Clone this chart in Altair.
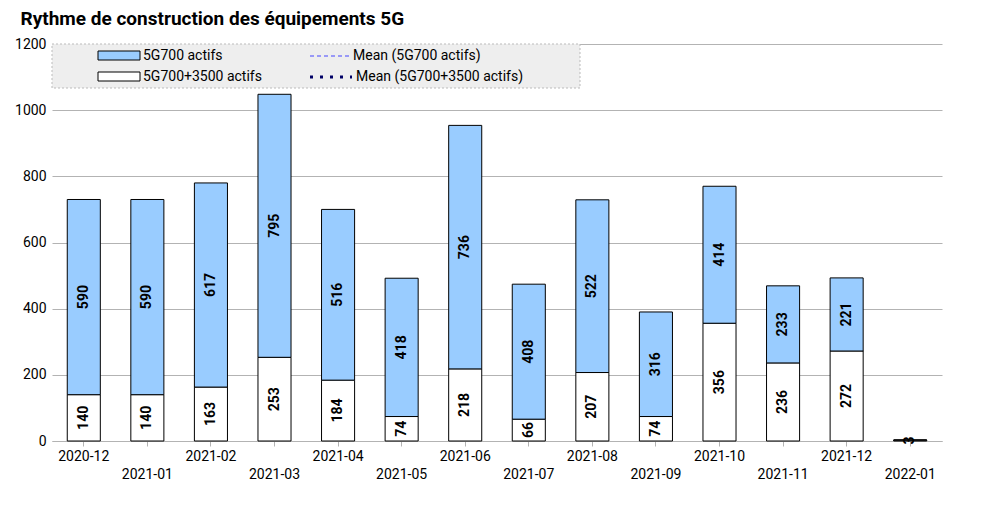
import altair as alt
import pandas as pd

months = ["2020-12","2021-01","2021-02","2021-03","2021-04","2021-05","2021-06",
          "2021-07","2021-08","2021-09","2021-10","2021-11","2021-12","2022-01"]
both = [140,140,163,253,184,74,218,66,207,74,356,236,272,3]
only700 = [590,590,617,795,516,418,736,408,522,316,414,233,221,0]

rows = []
for i, m in enumerate(months):
    rows.append({"month": m, "serie": "5G700+3500 actifs", "v": both[i], "o": 0, "lab": str(both[i])})
    rows.append({"month": m, "serie": "5G700 actifs", "v": only700[i], "o": 1,
                 "lab": str(only700[i]) if only700[i] > 0 else ""})
df = pd.DataFrame(rows)
lab = pd.DataFrame({"month": months, "row": [i % 2 for i in range(len(months))]})

W, H = 890, 397
xs = alt.X("month:N", sort=months, title=None,
           scale=alt.Scale(paddingInner=0.48, paddingOuter=0.24),
           axis=alt.Axis(labels=False, ticks=True, domainColor="#b3b3b3", tickColor="#b3b3b3", grid=False))

bars = alt.Chart(df).mark_bar(stroke="black", strokeWidth=1).encode(
    x=xs,
    y=alt.Y("v:Q", stack="zero", title=None,
            scale=alt.Scale(domain=[0, 1200]),
            axis=alt.Axis(values=list(range(0, 1201, 100)), gridColor="#b3b3b3", format="d",
                          labelOverlap=False, labelBound=False, labelFlush=False,
                          domain=False, ticks=False, labelFontSize=14, labelColor="black", labelPadding=6)),
    order=alt.Order("o:Q"),
    color=alt.Color("serie:N", scale=alt.Scale(domain=["5G700 actifs", "5G700+3500 actifs"],
                                               range=["#99ccff", "#ffffff"]), legend=None),
)

texts = alt.Chart(df).transform_filter("datum.v > 0").transform_stack(
    stack="v", groupby=["month"], as_=["y0", "y1"], sort=[alt.SortField("o")]
).transform_calculate(mid="(datum.y0 + datum.y1) / 2").mark_text(
    angle=270, fontWeight="bold", fontSize=14, color="black", font="Roboto"
).encode(x=alt.X("month:N", sort=months), y="mid:Q", text="lab:N")

xl0 = alt.Chart(lab).transform_filter("datum.row == 0").mark_text(
    fontSize=14, baseline="top", font="Roboto").encode(
    x=alt.X("month:N", sort=months), y=alt.value(H + 9), text="month:N")
xl1 = alt.Chart(lab).transform_filter("datum.row == 1").mark_text(
    fontSize=14, baseline="top", font="Roboto").encode(
    x=alt.X("month:N", sort=months), y=alt.value(H + 27), text="month:N")

one = pd.DataFrame({"a": [0]})
box = alt.Chart(one).mark_rect(fill="#eeeeee", stroke="#bbbbbb", strokeDash=[2, 2]).encode(
    x=alt.value(0), x2=alt.value(528), y=alt.value(0), y2=alt.value(44))
sw1 = alt.Chart(one).mark_rect(fill="#99ccff", stroke="black").encode(
    x=alt.value(46), x2=alt.value(88), y=alt.value(7), y2=alt.value(16))
sw2 = alt.Chart(one).mark_rect(fill="white", stroke="black").encode(
    x=alt.value(46), x2=alt.value(88), y=alt.value(28), y2=alt.value(37))
ln1 = alt.Chart(one).mark_rule(color="#4444ff", strokeDash=[4, 3]).encode(
    x=alt.value(258), x2=alt.value(300), y=alt.value(12))
ln2 = alt.Chart(one).mark_rule(color="#000066", strokeDash=[3, 7], strokeWidth=3).encode(
    x=alt.value(258), x2=alt.value(300), y=alt.value(33))
def t(txt, x, y):
    return alt.Chart(one).mark_text(text=txt, align="left", baseline="middle", fontSize=14,
                                    font="Roboto", color="black").encode(x=alt.value(x), y=alt.value(y))
legend = [box, sw1, sw2, ln1, ln2,
          t("5G700 actifs", 91, 12), t("5G700+3500 actifs", 91, 33),
          t("Mean (5G700 actifs)", 301, 12), t("Mean (5G700+3500 actifs)", 304, 33)]

chart = alt.layer(bars, texts, xl0, xl1, *legend).properties(
    width=W, height=H,
    title=alt.Title("Rythme de construction des équipements 5G", anchor="start", dx=6,
                    fontSize=19, fontWeight="bold", font="Roboto", offset=8),
    padding={"left": 44, "top": 36, "right": 10, "bottom": 55},
    autosize="none",
).configure_view(stroke=None).configure_axis(labelFont="Roboto")

chart.save("out.html", embed_options={"renderer": "svg", "actions": False})
